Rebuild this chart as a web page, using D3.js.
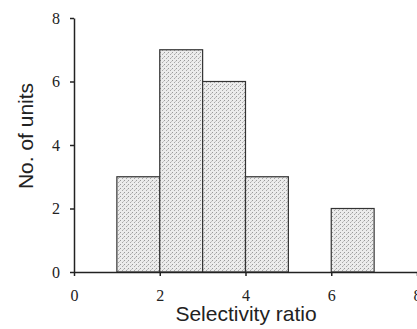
<!DOCTYPE html>
<html>
<head>
<meta charset="utf-8">
<script src="https://cdn.jsdelivr.net/npm/d3@7"></script>
<style>
  html, body { margin: 0; padding: 0; background: #fff; }
  svg { display: block; }
</style>
</head>
<body>
<svg id="chart"></svg>
<script>
// Histogram data: bin edges and counts
const binStart = [1, 2, 3, 4, 6];
const binEnd = [2, 3, 4, 5, 7];
const counts = [3, 7, 6, 3, 2];
const xTicks = [0, 2, 4, 6, 8];
const yTicks = [0, 2, 4, 6, 8];

const width = 417;
const height = 329;

const svg = d3.select("#chart")
    .attr("width", width)
    .attr("height", height);

// stippled fill like the scanned figure
const defs = svg.append("defs");
const pat = defs.append("pattern")
    .attr("id", "stipple")
    .attr("patternUnits", "userSpaceOnUse")
    .attr("width", 4)
    .attr("height", 4);
pat.append("rect").attr("width", 4).attr("height", 4).attr("fill", "#ececec");
pat.append("rect").attr("x", 0).attr("y", 0).attr("width", 1).attr("height", 1).attr("fill", "#9a9a9a");
pat.append("rect").attr("x", 2).attr("y", 2).attr("width", 1).attr("height", 1).attr("fill", "#a8a8a8");
pat.append("rect").attr("x", 3).attr("y", 1).attr("width", 1).attr("height", 1).attr("fill", "#c4c4c4");

const x = d3.scaleLinear().domain([0, 8]).range([74, 417]);
const y = d3.scaleLinear().domain([0, 8]).range([272, 18]);

// bars
svg.selectAll(".bar")
    .data(counts)
    .enter()
    .append("rect")
    .attr("class", "bar")
    .attr("x", (d, i) => x(binStart[i]))
    .attr("width", (d, i) => x(binEnd[i]) - x(binStart[i]))
    .attr("y", d => y(d))
    .attr("height", d => y(0) - y(d))
    .attr("fill", "url(#stipple)")
    .attr("stroke", "#333")
    .attr("stroke-width", 1.2);

// axes
const xAxis = svg.append("g")
    .attr("transform", `translate(0,${y(0)})`)
    .call(d3.axisBottom(x).tickValues(xTicks).tickSize(4).tickSizeOuter(0).tickPadding(14));

const yAxis = svg.append("g")
    .attr("transform", `translate(${x(0)},0)`)
    .call(d3.axisLeft(y).tickValues(yTicks).tickSize(4).tickSizeOuter(0).tickPadding(10));

[xAxis, yAxis].forEach(g => {
    g.selectAll("path, line").attr("stroke", "#222").attr("stroke-width", 1.5);
    g.selectAll("text")
        .attr("fill", "#222")
        .style("font-family", "'Liberation Serif', 'Times New Roman', serif")
        .style("font-size", "16px");
});

// axis titles
svg.append("text")
    .attr("x", 246)
    .attr("y", 321)
    .attr("text-anchor", "middle")
    .style("font-family", "'Liberation Sans', Arial, sans-serif")
    .style("font-size", "21px")
    .attr("fill", "#222")
    .text("Selectivity ratio");

svg.append("text")
    .attr("transform", "translate(33,136) rotate(-90)")
    .attr("text-anchor", "middle")
    .style("font-family", "'Liberation Sans', Arial, sans-serif")
    .style("font-size", "21px")
    .attr("fill", "#222")
    .text("No. of units");
</script>
</body>
</html>
